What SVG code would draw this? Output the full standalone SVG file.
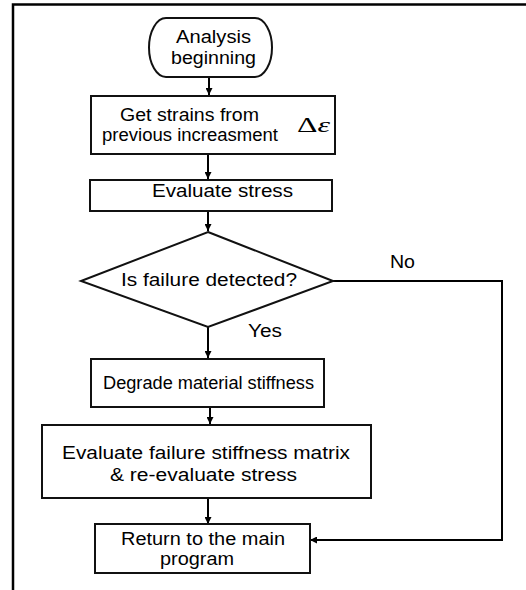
<svg xmlns="http://www.w3.org/2000/svg" width="526" height="590" viewBox="0 0 526 590">
<defs>
<marker id="arr" viewBox="0 0 10 10" refX="10" refY="5" markerWidth="7" markerHeight="7" markerUnits="userSpaceOnUse" orient="auto">
<path d="M0,0 L10,5 L0,10 z" fill="#000"/>
</marker>
<style>
.shape{fill:#fff;stroke:#111;stroke-width:2}
.t{font-family:"Liberation Sans",Arial,sans-serif;font-size:17.5px;fill:#000;text-anchor:start}
.c{stroke:#000;stroke-width:2;fill:none}
</style>
</defs>
<rect width="526" height="590" fill="#fff"/>
<path d="M13,591 V4.5 H527" fill="none" stroke="#000" stroke-width="2.5"/>

<g id="connectors">
<line class="c" x1="209" y1="77" x2="209" y2="95" marker-end="url(#arr)"/>
<line class="c" x1="208" y1="154" x2="208" y2="179" marker-end="url(#arr)"/>
<line class="c" x1="208" y1="211" x2="208" y2="231" marker-end="url(#arr)"/>
<line class="c" x1="208" y1="327" x2="208" y2="358" marker-end="url(#arr)"/>
<line class="c" x1="210" y1="407" x2="210" y2="424" marker-end="url(#arr)"/>
<line class="c" x1="208" y1="498" x2="208" y2="524" marker-end="url(#arr)"/>
<path class="c" d="M333,281 H502 V540 H310" marker-end="url(#arr)"/>
<text class="t" x="390" y="268" textLength="25" lengthAdjust="spacingAndGlyphs">No</text>
<text class="t" x="248" y="337" textLength="34" lengthAdjust="spacingAndGlyphs">Yes</text>
</g>

<g id="start">
<rect class="shape" x="149" y="18" width="123" height="59" rx="17" ry="29.5"/>
<text class="t" x="176" y="42.5" font-size="18.5" textLength="75" lengthAdjust="spacingAndGlyphs">Analysis</text>
<text class="t" x="171" y="63.5" font-size="18.5" textLength="85" lengthAdjust="spacingAndGlyphs">beginning</text>
</g>

<g id="get-strains">
<rect class="shape" x="91" y="96" width="244" height="58"/>
<text class="t" x="120" y="121" textLength="139" lengthAdjust="spacingAndGlyphs">Get strains from</text>
<text class="t" x="102" y="141" textLength="176" lengthAdjust="spacingAndGlyphs">previous increasment</text>
<text x="297" y="132" font-family="'Liberation Serif','Times New Roman',serif" font-size="22" fill="#000" textLength="33" lengthAdjust="spacingAndGlyphs">Δ<tspan font-style="italic">ε</tspan></text>
</g>

<g id="evaluate-stress">
<rect class="shape" x="90" y="180" width="242" height="31"/>
<text class="t" x="152" y="197" textLength="141" lengthAdjust="spacingAndGlyphs">Evaluate stress</text>
</g>

<g id="decision">
<polygon class="shape" points="208,232 333,281 208,327 81,281"/>
<text class="t" x="121" y="286" textLength="176" lengthAdjust="spacingAndGlyphs">Is failure detected?</text>
</g>

<g id="degrade">
<rect class="shape" x="91" y="359" width="233" height="48"/>
<text class="t" x="103" y="389" textLength="211" lengthAdjust="spacingAndGlyphs">Degrade material stiffness</text>
</g>

<g id="evaluate-failure">
<rect class="shape" x="42" y="425" width="329" height="73"/>
<text class="t" x="62" y="459" textLength="288" lengthAdjust="spacingAndGlyphs">Evaluate failure stiffness matrix</text>
<text class="t" x="110" y="481" textLength="187" lengthAdjust="spacingAndGlyphs">&amp; re-evaluate stress</text>
</g>

<g id="return">
<rect class="shape" x="95" y="524" width="215" height="49"/>
<text class="t" x="121" y="545" textLength="164" lengthAdjust="spacingAndGlyphs">Return to the main</text>
<text class="t" x="160" y="564.5" textLength="74" lengthAdjust="spacingAndGlyphs">program</text>
</g>
</svg>
